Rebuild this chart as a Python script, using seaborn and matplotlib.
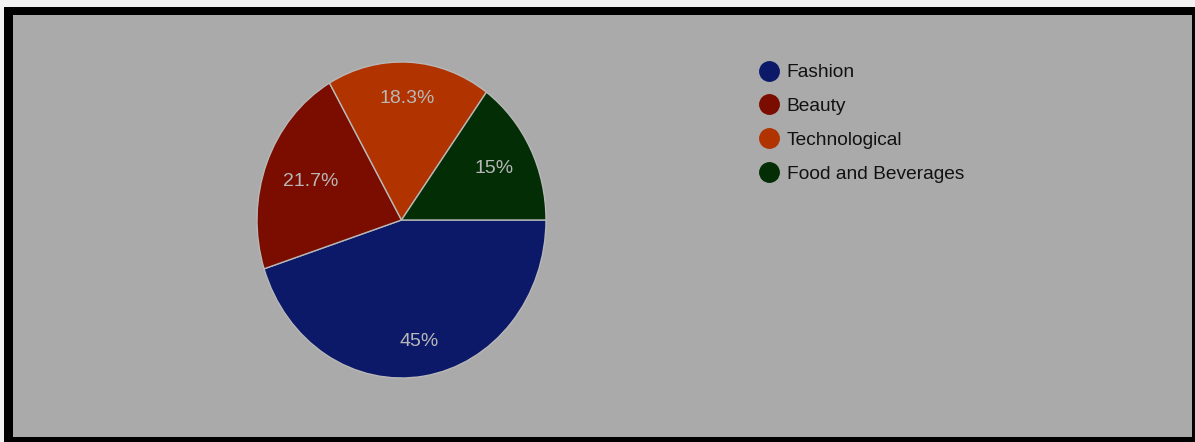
import matplotlib
matplotlib.use("Agg")
import matplotlib.pyplot as plt
import seaborn as sns
import numpy as np
from matplotlib.patches import Rectangle
from matplotlib.lines import Line2D

# data
categories = ["Fashion", "Beauty", "Technological", "Food and Beverages"]
shares = [45.0, 21.7, 18.3, 15.0]
pct_labels = ["45%", "21.7%", "18.3%", "15%"]

sns.set_style("white")
plt.rcParams['font.family'] = ['Liberation Sans', 'DejaVu Sans']

palette = sns.color_palette(["#0c1968", "#7a0c00", "#b03300", "#032d05"])

W, H = 1195, 442
fig = plt.figure(figsize=(W / 100, H / 100), dpi=100)
fig.patch.set_facecolor("#f2f2f2")

# black frame + gray panel (pixel coords)
def px_rect(x0, y0, x1, y1, color):
    fig.patches.append(Rectangle((x0 / W, 1 - y1 / H), (x1 - x0) / W, (y1 - y0) / H,
                                 transform=fig.transFigure, facecolor=color,
                                 edgecolor="none", zorder=-10))

px_rect(4, 7, W, H, "#000000")
px_rect(13, 15, 1192, 437, "#aaaaaa")

# pie axes spans the (slightly stretched) pie box
ax = fig.add_axes([257 / W, 1 - 378 / H, 289 / W, 316 / H])
ax.set_zorder(5)
ax.patch.set_alpha(0)
wedges, texts, autotexts = ax.pie(
    shares, colors=palette, startangle=0, counterclock=False,
    autopct="%1.1f%%", pctdistance=0.75,
    wedgeprops=dict(edgecolor="#b8b8b8", linewidth=1.0),
)
# label radius per slice, as placed in the original
label_r = [0.78, 0.67, 0.77, 0.72]
for w, t, lab, r in zip(wedges, autotexts, pct_labels, label_r):
    mid = np.deg2rad((w.theta1 + w.theta2) / 2)
    t.set_position((r * np.cos(mid), r * np.sin(mid)))
    t.set_text(lab)
    t.set_color("#b8b8b8")
    t.set_fontsize(14)
ax.set_aspect("auto")
ax.set_xlim(-1, 1)
ax.set_ylim(-1, 1)
ax.axis("off")

# legend with round markers
handles = [Line2D([0], [0], marker="o", linestyle="none", markersize=14,
                  markerfacecolor=c, markeredgecolor=c) for c in palette]
leg = fig.legend(handles, categories, loc="upper left",
                 bbox_to_anchor=(757 / W, 1 - 64 / H), frameon=False,
                 fontsize=13.8, labelcolor="#111111", handletextpad=0.35,
                 labelspacing=0.85, borderaxespad=0, borderpad=0, handlelength=1.2)
leg.set_zorder(5)

fig.savefig("out.png", dpi=100, facecolor=fig.get_facecolor())
